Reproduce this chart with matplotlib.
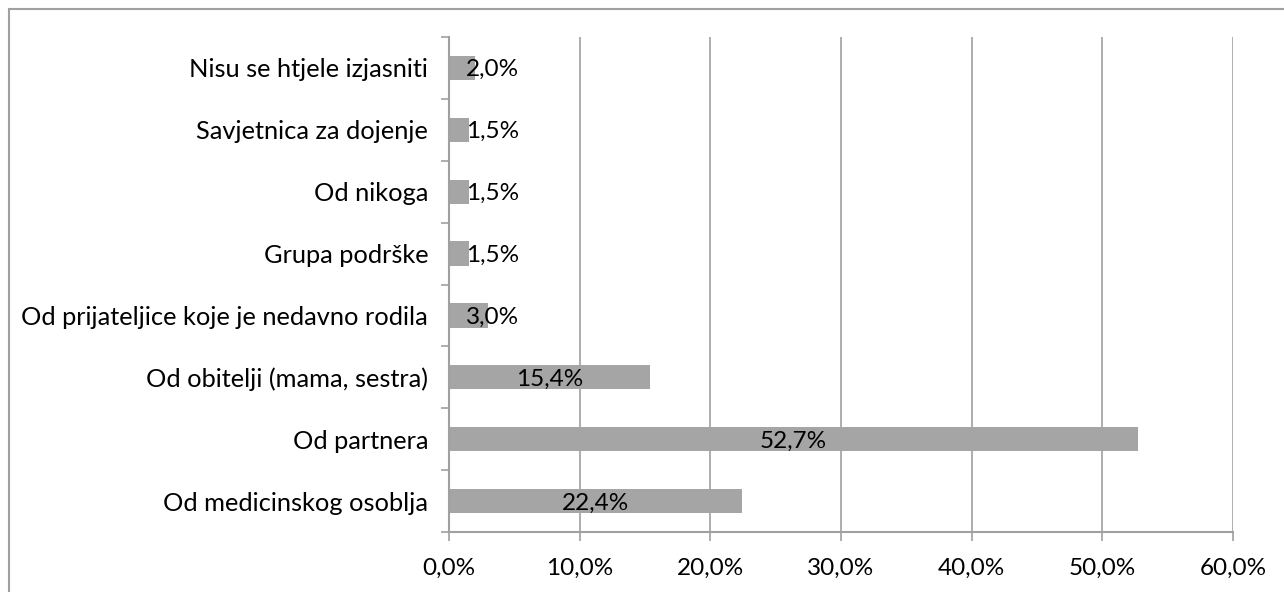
import matplotlib.pyplot as plt
from matplotlib.patches import Rectangle
import numpy as np

plt.rcParams['font.family'] = ['Lato', 'DejaVu Sans']

# Odgovori (odozdo prema gore)
categories = ['Od medicinskog osoblja', 'Od partnera', 'Od obitelji (mama, sestra)',
              'Od prijateljice koje je nedavno rodila', 'Grupa podrške', 'Od nikoga',
              'Savjetnica za dojenje', 'Nisu se htjele izjasniti']
values = [22.4, 52.7, 15.4, 3.0, 1.5, 1.5, 1.5, 2.0]
xticks = [0, 10, 20, 30, 40, 50, 60]

bar_color = '#A5A5A5'
line_color = '#A0A0A0'
fs = 17.5

fig = plt.figure(figsize=(12.84, 5.92), dpi=100)
fig.patches.append(Rectangle((9 / 1284, -0.1), 1.2, 1 - 9 / 592 + 0.1, transform=fig.transFigure,
                             fill=False, edgecolor=line_color, linewidth=1.5))
ax = fig.add_axes([449 / 1284, 1 - 532 / 592, (1233 - 449) / 1284, (532 - 37) / 592])

y = np.arange(len(categories))
ax.barh(y, values, height=0.39, color=bar_color, zorder=3)

for yi, v in zip(y, values):
    lbl = f'{v:.1f}%'.replace('.', ',')
    ax.text(max(v / 2, 3.3), yi - 0.03, lbl, ha='center', va='center', fontsize=fs, zorder=4)

ax.set_xlim(0, 60)
ax.set_ylim(-0.5, len(categories) - 0.5)
ax.set_xticks(xticks)
ax.set_xticklabels([f'{t:.1f}%'.replace('.', ',') for t in xticks], fontsize=fs)
ax.set_yticks(y)
ax.set_yticklabels(categories, fontsize=18.3)
ax.set_yticks(np.arange(-0.5, len(categories)), minor=True)
ax.tick_params(axis='y', which='major', length=0, pad=15)
ax.tick_params(axis='y', which='minor', length=6, color=line_color, width=1.2)
ax.tick_params(axis='x', length=6.5, color=line_color, width=1.2, pad=12)

ax.grid(axis='x', color=line_color, linewidth=1.2, zorder=0)
for s in ['top', 'right']:
    ax.spines[s].set_visible(False)
for s in ['left', 'bottom']:
    ax.spines[s].set_color(line_color)
    ax.spines[s].set_linewidth(1.5)
    ax.spines[s].set_zorder(5)

fig.savefig('out.png', dpi=100)
